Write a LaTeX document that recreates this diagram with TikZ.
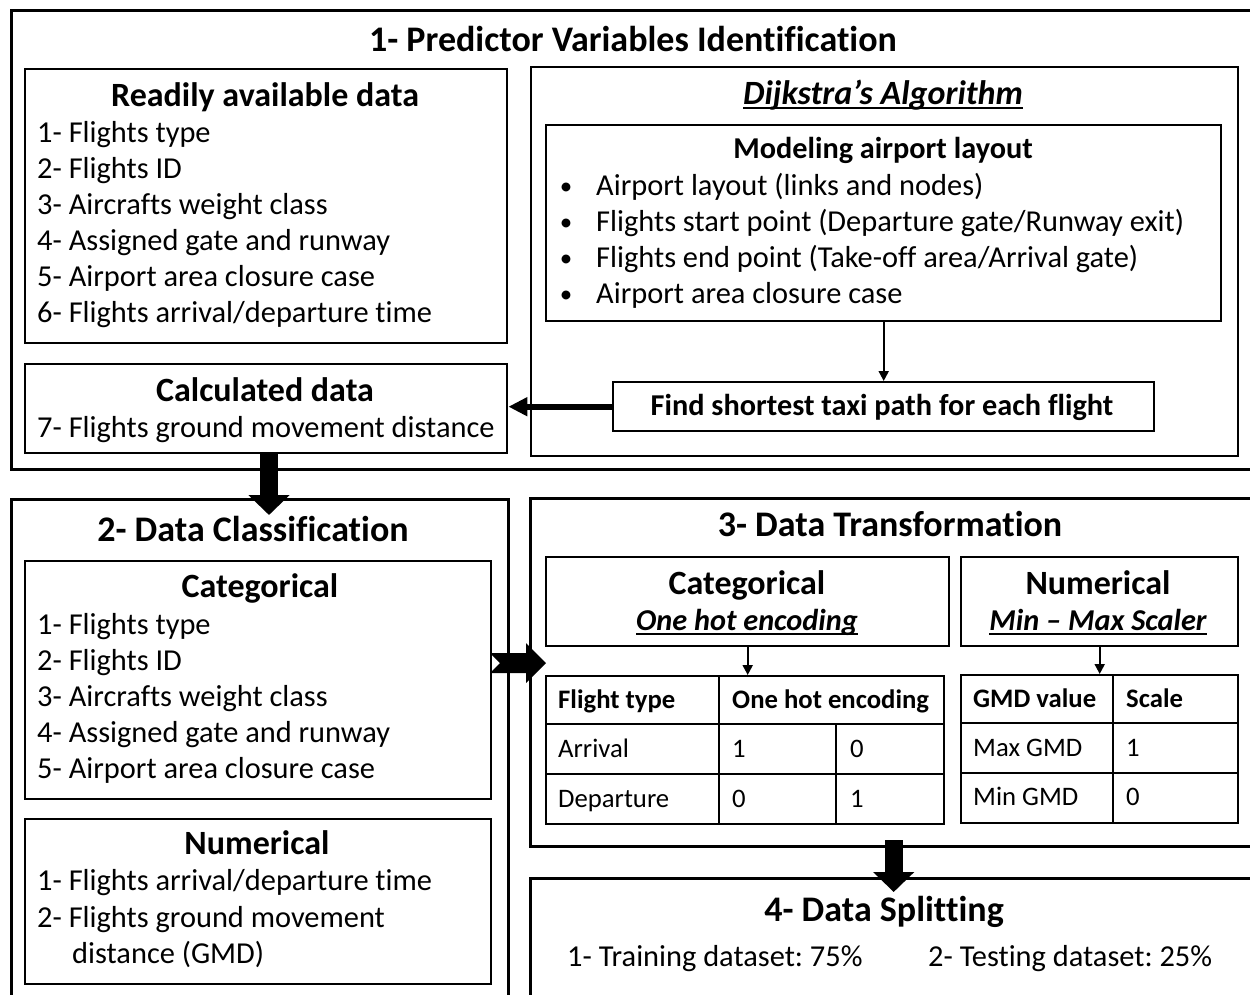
\documentclass[tikz,border=0pt]{standalone}
\usepackage{fontspec}
\setmainfont{Carlito}[Ligatures=NoCommon]
\usetikzlibrary{arrows.meta,calc}

% font sizes (1pt = one unit of the drawing grid)
\newcommand\fsTitle{\fontsize{36}{43}\selectfont\bfseries}
\newcommand\fsHead{\fontsize{34}{41}\selectfont\bfseries}
\newcommand\fsSub{\fontsize{30.3}{36}\selectfont\bfseries}
\newcommand\fsBody{\fontsize{30.4}{36}\selectfont}
\newcommand\fsBullet{\fontsize{25}{30}\selectfont}
\newcommand\fsTab{\fontsize{26.7}{32}\selectfont}
% thick underline
\newcommand\ulbox[1]{\setbox0\hbox{#1}\rlap{\vrule height -2.6pt depth 4.6pt width \wd0}\box0}

\begin{document}
\frenchspacing
\begin{tikzpicture}[x=1pt,y=-1pt,
  frame/.style={draw, line width=3.4pt, anchor=north west, inner sep=0pt},
  inbox/.style={draw, line width=2.4pt, anchor=north west, inner sep=0pt},
  tabbox/.style={draw, line width=2pt, anchor=north west, inner sep=0pt},
  txt/.style={inner sep=0pt, anchor=base},
  ltxt/.style={inner sep=0pt, anchor=base west},
  thinarrow/.style={line width=2pt, -{Triangle[width=10pt,length=10pt]}},
  midarrow/.style={line width=6pt, -{Triangle[width=18pt,length=19pt]}},
  bigarrow/.style={line width=18pt, -{Triangle[width=40pt,length=20pt]}},
  grid/.style={line width=2pt}
]
\useasboundingbox (0,0) rectangle (1250,994);
\clip (0,0) rectangle (1250,994);

% ---------- section 1 ----------
\node[frame, minimum width=1252pt, minimum height=459pt] (s1) at (10,9) {};
\node[txt] (t1) at (633,51.5) {\fsTitle 1- Predictor Variables Identification};

\node[inbox, minimum width=482pt, minimum height=274pt] (ready) at (24,68) {};
\node[txt] (readyh) at (265,106) {\fsHead Readily available data};
\foreach \t [count=\i] in {1- Flights type, 2- Flights ID, 3- Aircrafts weight class,
    4- Assigned gate and runway, 5- Airport area closure case, 6- Flights arrival/departure time}
  \node[ltxt] (ready\i) at (37,{142+36*(\i-1)}) {\fsBody \t};

\node[inbox, minimum width=482pt, minimum height=89pt] (calc) at (24,363) {};
\node[txt] (calch) at (265,401) {\fsHead Calculated data};
\node[ltxt] (calc1) at (37,437) {\fsBody 7- Flights ground movement distance};

\node[inbox, minimum width=707pt, minimum height=389pt] (dij) at (530,66) {};
\node[txt] (dijh) at (883,104) {\fsHead\itshape\ulbox{Dijkstra’s Algorithm}};

\node[inbox, minimum width=675pt, minimum height=196pt] (model) at (545,124) {};
\node[txt] (modelh) at (883,158) {\fsSub Modeling airport layout};
\foreach \t [count=\i] in {Airport layout (links and nodes),
    Flights start point (Departure gate/Runway exit),
    Flights end point (Take-off area/Arrival gate),
    Airport area closure case}{
  \node[txt] (bul\i) at (566,{194+36*(\i-1)}) {\fsBullet •};
  \node[ltxt] (model\i) at (596,{195+36*(\i-1)}) {\fsBody \t};
}

\node[inbox, minimum width=541pt, minimum height=49pt] (find) at (612,381) {};
\node[txt] (findt) at (882,415) {\fsSub Find shortest taxi path for each flight};

\draw[thinarrow] (model.south) -- (find.north);
\draw[midarrow] (find.west) -- (find.west -| calc.east);

% ---------- section 2 ----------
\node[frame, minimum width=497pt, minimum height=520pt] (s2) at (10,498) {};
\node[txt] (t2) at (253,541.5) {\fsTitle 2- Data Classification};

\node[inbox, minimum width=466pt, minimum height=238pt] (cat) at (24,560) {};
\node[txt] (cath) at (260,597) {\fsHead Categorical};
\foreach \t [count=\i] in {1- Flights type, 2- Flights ID, 3- Aircrafts weight class,
    4- Assigned gate and runway, 5- Airport area closure case}
  \node[ltxt] (cat\i) at (37,{634+36*(\i-1)}) {\fsBody \t};

\node[inbox, minimum width=466pt, minimum height=165pt] (num) at (24,818) {};
\node[txt] (numh) at (257,854) {\fsHead Numerical};
\node[ltxt] (num1) at (37,890) {\fsBody 1- Flights arrival/departure time};
\node[ltxt] (num2) at (37,927) {\fsBody 2- Flights ground movement};
\node[ltxt] (num3) at (72,963) {\fsBody distance (GMD)};

% ---------- section 3 ----------
\node[frame, minimum width=726pt, minimum height=348pt] (s3) at (529,497) {};
\node[txt] (t3) at (890,536.5) {\fsTitle 3- Data Transformation};

\node[inbox, minimum width=403pt, minimum height=89pt] (tcat) at (545,556) {};
\node[txt] (tcath) at (747,594) {\fsHead Categorical};
\node[txt] (tcats) at (747,630) {\fsSub\itshape\ulbox{One hot encoding}};

\node[inbox, minimum width=277pt, minimum height=89pt] (tnum) at (960,556) {};
\node[txt] (tnumh) at (1098,594) {\fsHead Numerical};
\node[txt] (tnums) at (1098,630) {\fsSub\itshape\ulbox{Min – Max Scaler}};

% one hot encoding table
\node[tabbox, minimum width=398pt, minimum height=148pt] (tab1) at (545,675) {};
\draw[grid] (tab1.north west) ++(0,49) coordinate (r1) -- (r1 -| tab1.east);
\draw[grid] (tab1.north west) ++(0,99) coordinate (r2) -- (r2 -| tab1.east);
\draw[grid] (tab1.north west) ++(174,0) coordinate (c1) -- (c1 |- tab1.south);
\draw[grid] (r1) ++(291,0) coordinate (c2) -- (c2 |- tab1.south);
\node[ltxt] (e11) at (558,708) {\fsTab\bfseries Flight type};
\node[ltxt] (e12) at (732,708) {\fsTab\bfseries One hot encoding};
\node[ltxt] (e21) at (558,757) {\fsTab Arrival};
\node[ltxt] (e22) at (732,757) {\fsTab 1};
\node[ltxt] (e23) at (850,757) {\fsTab 0};
\node[ltxt] (e31) at (558,807) {\fsTab Departure};
\node[ltxt] (e32) at (732,807) {\fsTab 0};
\node[ltxt] (e33) at (850,807) {\fsTab 1};

% min-max table
\node[tabbox, minimum width=277pt, minimum height=148pt] (tab2) at (960,674) {};
\draw[grid] (tab2.north west) ++(0,49) coordinate (q1) -- (q1 -| tab2.east);
\draw[grid] (tab2.north west) ++(0,99) coordinate (q2) -- (q2 -| tab2.east);
\draw[grid] (tab2.north west) ++(153,0) coordinate (d1) -- (d1 |- tab2.south);
\node[ltxt] (g11) at (973,707) {\fsTab\bfseries GMD value};
\node[ltxt] (g12) at (1126,707) {\fsTab\bfseries Scale};
\node[ltxt] (g21) at (973,756) {\fsTab Max GMD};
\node[ltxt] (g22) at (1126,756) {\fsTab 1};
\node[ltxt] (g31) at (973,805) {\fsTab Min GMD};
\node[ltxt] (g32) at (1126,805) {\fsTab 0};

\draw[thinarrow] (tcat.south) -- (tcat.south |- tab1.north);
\draw[thinarrow] (tnum.south) -- (tnum.south |- tab2.north);

% ---------- section 4 ----------
\node[frame, minimum width=726pt, minimum height=140pt] (s4) at (529,877) {};
\node[txt] (t4) at (884,921.5) {\fsTitle 4- Data Splitting};
\node[ltxt] (sp1) at (567,966) {\fsBody 1- Training dataset: 75\%};
\node[ltxt] (sp2) at (928,966) {\fsBody 2- Testing dataset: 25\%};

% ---------- block arrows between sections ----------
\coordinate (d1e) at (269,515);
\draw[bigarrow] (calc.south -| d1e) -- (d1e);
\draw[bigarrow] ($(s3.south)+(0,-8)$) -- ($(s4.north)+(0,15)$);

\coordinate (h1) at (490,663);
\coordinate (h2) at (546,663);
\fill ($(h1)+(0,-10)$) -- ($(h2)+(-20,-10)$) -- ($(h2)+(-20,-20)$) -- (h2)
  -- ($(h2)+(-20,20)$) -- ($(h2)+(-20,10)$) -- ($(h1)+(0,10)$) -- ($(h1)+(10,0)$) -- cycle;
\end{tikzpicture}
\end{document}
